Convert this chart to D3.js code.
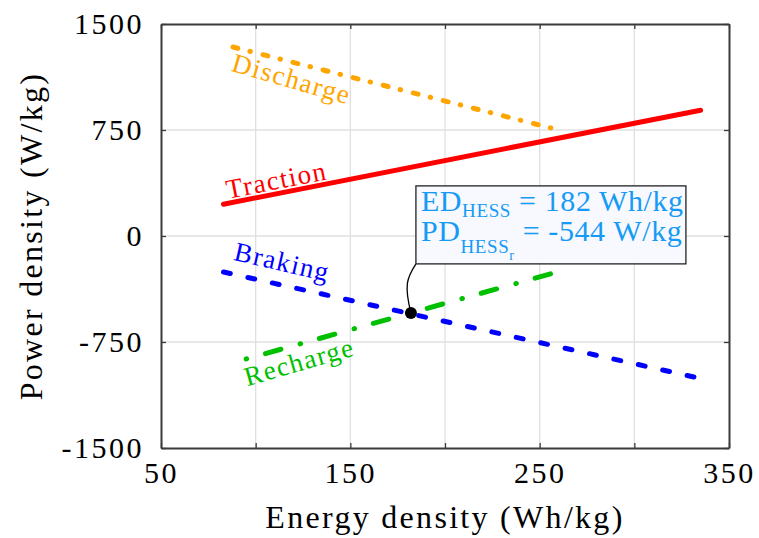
<!DOCTYPE html>
<html><head><meta charset="utf-8">
<script src="https://cdn.jsdelivr.net/npm/d3@7"></script>
<style>body{margin:0;background:#fff}svg{display:block}text{font-family:"Liberation Serif","Times New Roman",serif}</style>
</head><body><svg id="c" width="759" height="538"></svg>
<script>
// ---- data ----
const xTicks = [50, 100, 150, 200, 250, 300, 350];
const xTickLabels = ["50", "", "150", "", "250", "", "350"];
const yTicks = [-1500, -750, 0, 750, 1500];
const yTickLabels = ["-1500", "-750", "0", "750", "1500"];
const seriesNames = ["Discharge", "Traction", "Braking", "Recharge"];
const seriesColors = ["#FFA500", "#FF0000", "#0000FF", "#00C000"];
const dischargeX = [88, 256];   const dischargeY = [1337, 764];
const tractionX  = [83, 335];   const tractionY  = [225, 890];
const brakingX   = [83, 334];   const brakingY   = [-255, -1005];
const rechargeX  = [95, 260];   const rechargeY  = [-870, -252];
const labelX = [119, 111, 114, 123];
const labelY = [1111, 396, -184, -891];
const labelAngle = [16, -11, 13, -16];
const pointX = 182, pointY = -544;

// ---- layout ----
const svg = d3.select("#c");
const L = 161, R = 729, T = 24, B = 448;
const x = d3.scaleLinear().domain([50, 350]).range([L, R]);
const y = d3.scaleLinear().domain([-1500, 1500]).range([B, T]);
const axisColor = "#3a3a3a";

// grid
svg.append("g").selectAll("line").data(xTicks.slice(1, -1)).join("line")
  .attr("x1", d => x(d)).attr("x2", d => x(d)).attr("y1", T).attr("y2", B)
  .attr("stroke", "#e0e0e0").attr("stroke-width", 1.3);
svg.append("g").selectAll("line").data(yTicks.slice(1, -1)).join("line")
  .attr("y1", d => y(d)).attr("y2", d => y(d)).attr("x1", L).attr("x2", R)
  .attr("stroke", "#e0e0e0").attr("stroke-width", 1.3);

// axes with inward ticks
const tickFmtX = (d, i) => xTickLabels[i];
const tickFmtY = (d, i) => yTickLabels[i];
const gB = svg.append("g").attr("transform", `translate(0,${B})`)
  .call(d3.axisBottom(x).tickValues(xTicks).tickFormat(tickFmtX).tickSizeInner(-5).tickSizeOuter(0).tickPadding(14));
const gT = svg.append("g").attr("transform", `translate(0,${T})`)
  .call(d3.axisTop(x).tickValues(xTicks).tickFormat("").tickSizeInner(-5).tickSizeOuter(0));
const gL = svg.append("g").attr("transform", `translate(${L},0)`)
  .call(d3.axisLeft(y).tickValues(yTicks).tickFormat(tickFmtY).tickSizeInner(-5).tickSizeOuter(0).tickPadding(17));
const gR = svg.append("g").attr("transform", `translate(${R},0)`)
  .call(d3.axisRight(y).tickValues(yTicks).tickFormat("").tickSizeInner(-5).tickSizeOuter(0));
[gB, gT, gL, gR].forEach(g => {
  g.selectAll(".domain").attr("stroke", axisColor).attr("stroke-width", 2);
  g.selectAll(".tick line").attr("stroke", axisColor).attr("stroke-width", 1.3);
  g.selectAll("text").attr("fill", "#000").style("font-size", "30px").style("letter-spacing", "2.5px")
    .style("font-family", "'Liberation Serif',serif");
});
gB.selectAll("text").attr("dy", "0.71em");
gL.selectAll("text").attr("dy", "0.33em");

// series
const series = [
  {xs: dischargeX, ys: dischargeY, dash: "5,12.5,0.5,13"},
  {xs: tractionX, ys: tractionY, dash: null},
  {xs: brakingX, ys: brakingY, dash: "7,18"},
  {xs: rechargeX, ys: rechargeY, dash: "0.5,19.5,16,20"}
];
const line = d3.line().x(d => x(d[0])).y(d => y(d[1]));
series.forEach((s, i) => {
  const pts = s.xs.map((v, j) => [v, s.ys[j]]);
  svg.append("path").attr("d", line(pts)).attr("fill", "none")
    .attr("stroke", seriesColors[i]).attr("stroke-width", 5)
    .attr("stroke-linecap", "round")
    .attr("stroke-dasharray", s.dash);
});

// series labels
seriesNames.forEach((n, i) => {
  svg.append("text").text(n)
    .attr("transform", `translate(${x(labelX[i])},${y(labelY[i])}) rotate(${labelAngle[i]})`)
    .attr("text-anchor", "middle").attr("dominant-baseline", "central")
    .attr("fill", seriesColors[i]).style("font-size", "27px").style("letter-spacing", "1.5px");
});

// annotation
const px = x(pointX), py = y(pointY);
const bx = px + 5, by = py - 127, bw = 270, bh = 78;
svg.append("path")
  .attr("d", `M${bx},${by + bh} C${bx - 9},${by + bh + 14} ${px - 7},${py - 28} ${px},${py}`)
  .attr("fill", "none").attr("stroke", "#000").attr("stroke-width", 1.3);
svg.append("circle").attr("cx", px).attr("cy", py).attr("r", 6).attr("fill", "#000");
svg.append("rect").attr("x", bx).attr("y", by).attr("width", bw).attr("height", bh)
  .attr("fill", "#F8F8FF").attr("stroke", "#222").attr("stroke-width", 1.3);
const tc = "#159BF5";
const t1 = svg.append("text").attr("x", bx + 5).attr("y", by + 25).attr("fill", tc)
  .style("font-size", "30px").style("letter-spacing", "0.6px");
t1.append("tspan").text("ED");
t1.append("tspan").text("HESS").attr("dy", 6).style("font-size", "19px");
t1.append("tspan").text(" = " + pointX + " Wh/kg").attr("dy", -6);
const t2 = svg.append("text").attr("x", bx + 5).attr("y", by + 55).attr("fill", tc)
  .style("font-size", "30px").style("letter-spacing", "0.6px");
t2.append("tspan").text("PD");
t2.append("tspan").text("HESS").attr("dy", 12).style("font-size", "19px");
t2.append("tspan").text("r").attr("dy", 7).style("font-size", "14px");
t2.append("tspan").text(" = " + pointY + " W/kg").attr("dy", -19);

// axis titles
svg.append("text").text("Energy density (Wh/kg)")
  .attr("x", (L + R) / 2).attr("y", 528).attr("text-anchor", "middle")
  .style("font-size", "32px").style("letter-spacing", "2.3px");
svg.append("text").text("Power density (W/kg)")
  .attr("transform", `translate(42,${(T + B) / 2}) rotate(-90)`).attr("text-anchor", "middle")
  .style("font-size", "32px").style("letter-spacing", "2.3px");
</script></body></html>
